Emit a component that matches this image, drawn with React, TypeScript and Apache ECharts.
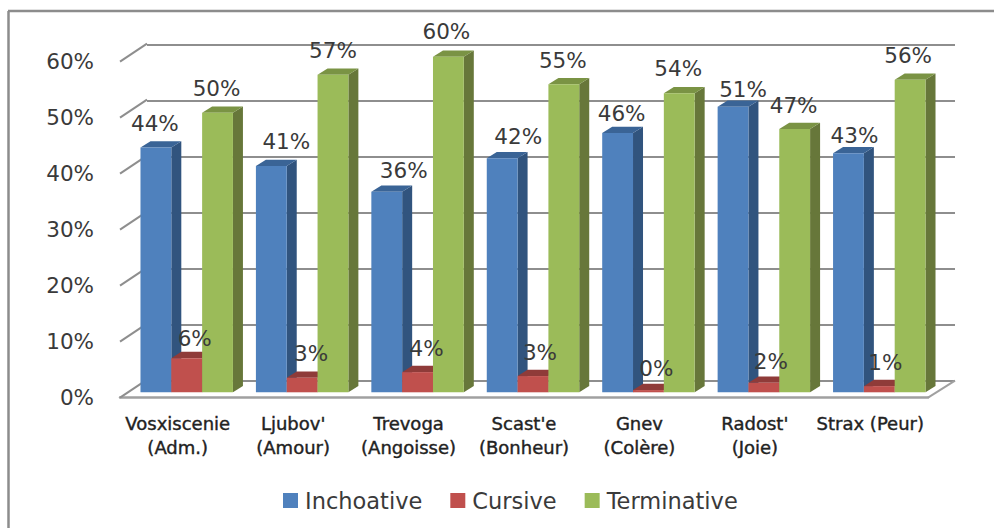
import React, { useEffect, useRef } from "react";
import * as echarts from "echarts";

const categories = [
  "Vosxiscenie\n(Adm.)",
  "Ljubov'\n(Amour)",
  "Trevoga\n(Angoisse)",
  "Scast'e\n(Bonheur)",
  "Gnev\n(Colère)",
  "Radost'\n(Joie)",
  "Strax (Peur)",
];
const inchoative = [43.7, 40.4, 35.8, 41.8, 46.3, 51, 42.7];
const cursive = [6.1, 2.6, 3.6, 2.9, 0.4, 1.7, 1.1];
const terminative = [49.9, 56.7, 59.9, 55, 53.4, 47, 55.8];
const inchoativeLabels = [44, 41, 36, 42, 46, 51, 43];
const cursiveLabels = [6, 3, 4, 3, 0, 2, 1];
const terminativeLabels = [50, 57, 60, 55, 54, 47, 56];
const axisTicks = [0, 10, 20, 30, 40, 50, 60];

// Hand placement of the data labels relative to the top of their bar: [dx, dy]
const inchoativeNudge = [[-1, 24], [15, 25], [17, 21], [16, 22], [4, 20], [10, 17], [6, 18]];
const cursiveNudge = [[8, 20], [9, 24], [9, 24], [7, 24], [8, 22], [7, 21], [6, 24]];
const terminativeNudge = [[-1, 24], [0, 24], [-2, 25], [-1, 24], [-1, 25], [-1, 24], [-2, 24]];

const FONT = "'DejaVu Sans', sans-serif";
const GRID_LINE = "#8e8e8e";
const DEPTH_X = 10;
const DEPTH_Y = 6.3;

function bar3d(
  name: string,
  values: number[],
  labels: number[],
  nudge: number[][],
  slot: number,
  colors: { front: string; side: string; top: string }
) {
  return {
    type: "custom",
    name,
    xAxisIndex: 1,
    yAxisIndex: 1,
    clip: false,
    itemStyle: { color: colors.front },
    encode: { x: 0, y: 1 },
    data: values.map((v, i) => [i, v, labels[i], nudge[i][0], nudge[i][1]]),
    renderItem: (_p: any, api: any) => {
      const i = api.value(0);
      const v = api.value(1);
      const top = api.coord([i, v]);
      const base = api.coord([i, 0]);
      const w = api.size([1, 0])[0] * 0.267;
      const x0 = top[0] + (slot - 1.5) * w;
      const x1 = x0 + w;
      const yt = top[1];
      const yb = base[1];
      return {
        type: "group",
        children: [
          {
            type: "polygon",
            shape: { points: [[x1, yt], [x1 + DEPTH_X, yt - DEPTH_Y], [x1 + DEPTH_X, yb - DEPTH_Y], [x1, yb]] },
            style: { fill: colors.side },
          },
          {
            type: "polygon",
            shape: { points: [[x0, yt], [x0 + DEPTH_X, yt - DEPTH_Y], [x1 + DEPTH_X, yt - DEPTH_Y], [x1, yt]] },
            style: { fill: colors.top },
          },
          {
            type: "rect",
            shape: { x: x0, y: yt, width: w, height: yb - yt },
            style: { fill: colors.front },
          },
          {
            type: "text",
            z2: 100,
            style: {
              x: (x0 + x1) / 2 + api.value(3),
              y: yt - api.value(4),
              text: `${api.value(2)}%`,
              fill: "#3a3a3a",
              font: `21.5px ${FONT}`,
              align: "center",
              verticalAlign: "middle",
            },
          },
        ],
      };
    },
  };
}

export default function App() {
  const ref = useRef<HTMLDivElement>(null);
  useEffect(() => {
    document.body.style.margin = "0";
    const chart = echarts.init(ref.current!, undefined, { renderer: "svg" });
    chart.setOption({
      animation: false,
      backgroundColor: "#ffffff",
      textStyle: { fontFamily: FONT },
      graphic: [
        { type: "line", shape: { x1: 8.5, y1: 11, x2: 8.5, y2: 528 }, style: { stroke: "#8c8c8c", lineWidth: 2.5 } },
        { type: "line", shape: { x1: 8, y1: 11, x2: 994, y2: 11 }, style: { stroke: "#8c8c8c", lineWidth: 2.5 } },
      ],
      legend: {
        left: 278,
        top: 484,
        icon: "rect",
        itemWidth: 15,
        itemHeight: 15,
        itemGap: 28,
        data: ["Inchoative", "Cursive", "Terminative"],
        textStyle: { fontFamily: FONT, fontSize: 22.5, color: "#3a3a3a", padding: [0, 0, 0, 2] },
      },
      grid: [
        // front plane: value and category labels
        { left: 120, top: 61.7, width: 808, height: 336 },
        // plane the bars stand in
        { left: 129, top: 56.3, width: 808, height: 336 },
        // back wall
        { left: 147, top: 44.7, width: 808, height: 336 },
      ],
      xAxis: [
        {
          gridIndex: 0,
          type: "category",
          data: categories,
          axisTick: { show: false },
          axisLine: { lineStyle: { color: "#a0a0a0", width: 2.5 } },
          axisLabel: {
            interval: 0,
            margin: 14,
            fontFamily: FONT,
            fontSize: 18,
            lineHeight: 24,
            color: "#222222",
            textBorderColor: "#222222",
            textBorderWidth: 0.4,
          },
        },
        { gridIndex: 1, type: "category", data: categories, show: false },
        { gridIndex: 2, type: "category", data: categories, show: false },
      ],
      yAxis: [
        {
          gridIndex: 0,
          type: "value",
          min: 0,
          max: 60,
          interval: 10,
          axisLine: { show: false },
          axisTick: { show: false },
          splitLine: { show: false },
          axisLabel: {
            formatter: "{value}%",
            margin: 26,
            fontFamily: FONT,
            fontSize: 21.5,
            color: "#3a3a3a",
          },
        },
        { gridIndex: 1, type: "value", min: 0, max: 60, interval: 10, show: false, splitLine: { show: false } },
        {
          gridIndex: 2,
          type: "value",
          min: 0,
          max: 60,
          interval: 10,
          axisLine: { show: false },
          axisTick: { show: false },
          axisLabel: { show: false },
          splitLine: { show: true, lineStyle: { color: GRID_LINE, width: 2 } },
        },
      ],
      series: [
        {
          type: "custom",
          name: "walls",
          xAxisIndex: 0,
          yAxisIndex: 0,
          clip: false,
          silent: true,
          encode: { x: 0, y: 1 },
          data: axisTicks.map((t) => [0, t]),
          renderItem: (p: any, api: any) => {
            const y = api.coord([0, api.value(1)])[1];
            const x = p.coordSys.x;
            const children: any[] = [
              {
                type: "line",
                shape: { x1: x, y1: y, x2: x + 27, y2: y - 18 },
                style: { stroke: GRID_LINE, lineWidth: 2 },
              },
            ];
            if (api.value(1) === 0) {
              const xr = x + p.coordSys.width;
              children.push({
                type: "line",
                shape: { x1: xr, y1: y, x2: xr + 27, y2: y - 17 },
                style: { stroke: "#a0a0a0", lineWidth: 2 },
              });
            }
            return { type: "group", children };
          },
        },
        bar3d("Inchoative", inchoative, inchoativeLabels, inchoativeNudge, 0, { front: "#4f81bd", side: "#31547e", top: "#3a6496" }),
        bar3d("Cursive", cursive, cursiveLabels, cursiveNudge, 1, { front: "#c0504d", side: "#7f3533", top: "#8f3b39" }),
        bar3d("Terminative", terminative, terminativeLabels, terminativeNudge, 2, { front: "#9bbb59", side: "#67773a", top: "#7a9344" }),
      ],
    });
    return () => chart.dispose();
  }, []);
  return <div ref={ref} style={{ position: "absolute", left: 0, top: 0, width: 994, height: 528 }} />;
}
